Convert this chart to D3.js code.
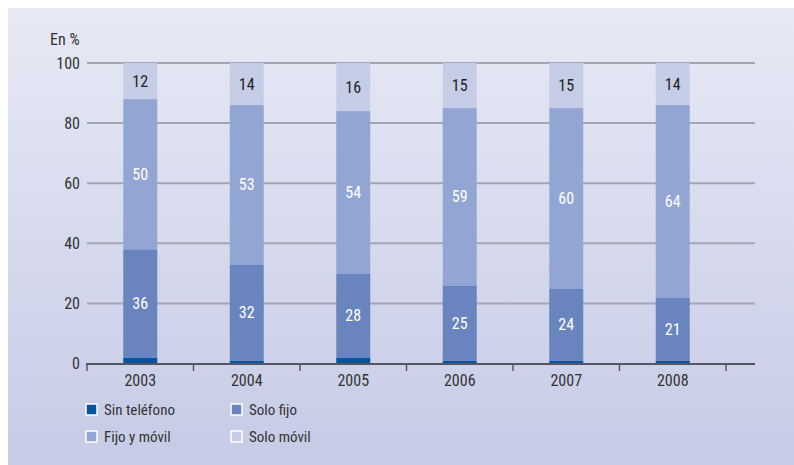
<!DOCTYPE html>
<html><head><meta charset="utf-8">
<script src="https://cdn.jsdelivr.net/npm/d3@7"></script>
<style>
body{margin:0;background:#fff;}
svg{display:block;}
text{font-family:"Liberation Sans Narrow","Roboto Condensed","Roboto",sans-serif;}
</style></head>
<body><svg id="c" width="794" height="465"></svg>
<script>
const years = ["2003","2004","2005","2006","2007","2008"];
const sinTelefono = [2,1,2,1,1,1];
const soloFijo = [36,32,28,25,24,21];
const fijoMovil = [50,53,54,59,60,64];
const soloMovil = [12,14,16,15,15,14];
const seriesNames = ["Sin teléfono","Solo fijo","Fijo y móvil","Solo móvil"];
const seriesColors = ["#06539e","#6a84c0","#93a6d3","#c6cde7"];
const yTicks = [0,20,40,60,80,100];

const svg = d3.select("#c");
const defs = svg.append("defs");
const g = defs.append("linearGradient").attr("id","bg").attr("x1",0).attr("y1",0).attr("x2",0).attr("y2",1);
g.append("stop").attr("offset","0%").attr("stop-color","#e7e9f5");
g.append("stop").attr("offset","100%").attr("stop-color","#c6cbe6");
svg.append("rect").attr("x",8).attr("y",8).attr("width",786).attr("height",457).attr("fill","url(#bg)");

const x = d3.scaleBand().domain(years).range([87,726]).paddingInner(0).paddingOuter(0);
const y = d3.scaleLinear().domain([0,100]).range([363.5,63]);
const barW = 34;

// gridlines
svg.append("g").selectAll("line").data(yTicks.filter(d=>d>0)).join("line")
  .attr("x1",87).attr("x2",755).attr("y1",d=>y(d)).attr("y2",d=>y(d))
  .attr("stroke","#a3a6b2").attr("stroke-width",2);

// y tick labels
svg.append("g").selectAll("text").data(yTicks).join("text")
  .attr("x",80).attr("y",d=>y(d)).attr("dy","0.35em").attr("text-anchor","end")
  .attr("font-size",16).attr("fill","#333").text(d=>d);
svg.append("text").attr("x",50).attr("y",45).attr("font-size",16).attr("fill","#333").text("En %");

// stacked data
const rows = years.map((yr,i)=>({year:yr, s0:sinTelefono[i], s1:soloFijo[i], s2:fijoMovil[i], s3:soloMovil[i]}));
const stack = d3.stack().keys(["s0","s1","s2","s3"])(rows);

const layers = svg.append("g").selectAll("g").data(stack).join("g").attr("fill",(d,i)=>seriesColors[i]);
layers.selectAll("rect").data(d=>d).join("rect")
  .attr("x",d=>x(d.data.year)+x.bandwidth()/2-barW/2).attr("width",barW)
  .attr("y",d=>y(d[1])).attr("height",d=>y(d[0])-y(d[1]));

// value labels (not for Sin teléfono)
stack.forEach((layer,li)=>{
  if(li===0) return;
  svg.append("g").selectAll("text").data(layer).join("text")
    .attr("x",d=>x(d.data.year)+x.bandwidth()/2)
    .attr("y",d=>(y(d[0])+y(d[1]))/2).attr("dy","0.36em")
    .attr("text-anchor","middle").attr("font-size",16)
    .attr("fill", li===3 ? "#222" : "#fff")
    .text(d=>d[1]-d[0]);
});

// x axis
const ax = svg.append("g");
ax.append("line").attr("x1",86).attr("x2",755).attr("y1",364).attr("y2",364).attr("stroke","#55565f").attr("stroke-width",2);
const bounds = years.map(d=>x(d)).concat([x(years[years.length-1])+x.bandwidth()]);
ax.selectAll("line.t").data(bounds).join("line").attr("class","t")
  .attr("x1",d=>d).attr("x2",d=>d).attr("y1",364).attr("y2",371).attr("stroke","#55565f").attr("stroke-width",1.5);
ax.selectAll("text").data(years).join("text")
  .attr("x",d=>x(d)+x.bandwidth()/2).attr("y",386).attr("text-anchor","middle")
  .attr("font-size",16).attr("fill","#333").text(d=>d);

// legend
const legPos = [[80,410],[225,410],[80,437],[225,437]];
const leg = svg.append("g").selectAll("g").data(seriesNames).join("g")
  .attr("transform",(d,i)=>`translate(${legPos[i][0]},${legPos[i][1]})`);
leg.append("rect").attr("x",6).attr("y",-6).attr("width",11).attr("height",11)
  .attr("fill",(d,i)=>seriesColors[i]).attr("stroke","#fff").attr("stroke-width",1.5);
leg.append("text").attr("x",24).attr("y",0).attr("dy","0.35em").attr("font-size",15).attr("fill","#333").text(d=>d);
</script></body></html>
